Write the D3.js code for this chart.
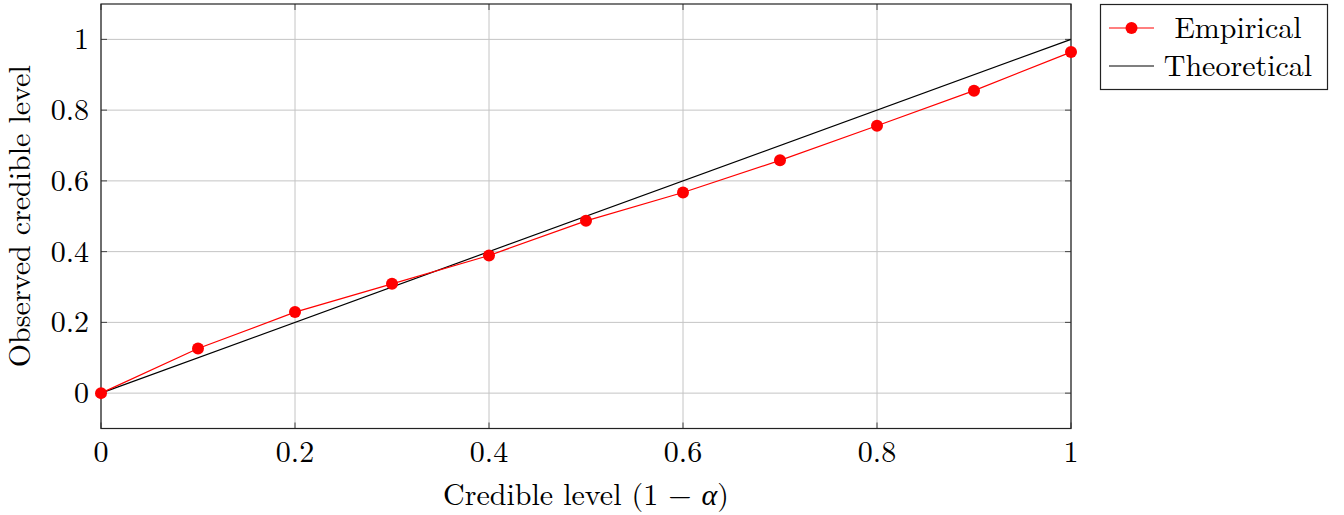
<!DOCTYPE html>
<html>
<head>
<meta charset="utf-8">
<script src="https://d3js.org/d3.v7.min.js"></script>
<style>
  body { margin: 0; background: #fff; }
  text { font-family: "Latin Modern Roman", "Liberation Serif", "Times New Roman", serif; fill: #000; }
</style>
</head>
<body>
<svg id="chart" width="1344" height="515"></svg>
<script>
// data
var levels = [0, 0.1, 0.2, 0.3, 0.4, 0.5, 0.6, 0.7, 0.8, 0.9, 1.0];
var empirical = [0, 0.126, 0.229, 0.309, 0.389, 0.487, 0.567, 0.658, 0.756, 0.855, 0.964];
var theoretical = [0, 1];
var xTicks = [0, 0.2, 0.4, 0.6, 0.8, 1];
var yTicks = [0, 0.2, 0.4, 0.6, 0.8, 1];
var seriesNames = ["Empirical", "Theoretical"];

var svg = d3.select("#chart");

var pLeft = 101, pRight = 1071, pTop = 4, pBottom = 428.5;

var x = d3.scaleLinear().domain([0, 1]).range([pLeft, pRight]);
var y = d3.scaleLinear().domain([-0.1, 1.1]).range([pBottom, pTop]);

// grid
svg.append("g").selectAll("line")
  .data(xTicks).enter().append("line")
    .attr("x1", d => x(d)).attr("x2", d => x(d))
    .attr("y1", pTop).attr("y2", pBottom)
    .attr("stroke", "#c4c4c4").attr("stroke-width", 1);
svg.append("g").selectAll("line")
  .data(yTicks).enter().append("line")
    .attr("x1", pLeft).attr("x2", pRight)
    .attr("y1", d => y(d)).attr("y2", d => y(d))
    .attr("stroke", "#c4c4c4").attr("stroke-width", 1);

// inward ticks on all sides
var tl = 6;
var ticks = svg.append("g").attr("stroke", "#444").attr("stroke-width", 1);
xTicks.forEach(function(d) {
  ticks.append("line").attr("x1", x(d)).attr("x2", x(d)).attr("y1", pBottom).attr("y2", pBottom - tl);
  ticks.append("line").attr("x1", x(d)).attr("x2", x(d)).attr("y1", pTop).attr("y2", pTop + tl);
});
yTicks.forEach(function(d) {
  ticks.append("line").attr("x1", pLeft).attr("x2", pLeft + tl).attr("y1", y(d)).attr("y2", y(d));
  ticks.append("line").attr("x1", pRight).attr("x2", pRight - tl).attr("y1", y(d)).attr("y2", y(d));
});

// tick labels
svg.append("g").selectAll("text")
  .data(xTicks).enter().append("text")
    .attr("x", d => x(d)).attr("y", 462)
    .attr("text-anchor", "middle")
    .style("font-size", "30px")
    .text(d => d3.format("")(d));
svg.append("g").selectAll("text")
  .data(yTicks).enter().append("text")
    .attr("x", 89).attr("y", d => y(d) + 10)
    .attr("text-anchor", "end")
    .style("font-size", "30px")
    .text(d => d3.format("")(d));

// lines
var line = d3.line().x(d => x(d[0])).y(d => y(d[1]));
svg.append("path")
  .datum(theoretical.map(d => [d, d]))
  .attr("d", line).attr("fill", "none")
  .attr("stroke", "#000").attr("stroke-width", 1.2);

var emp = levels.map((d, i) => [d, empirical[i]]);
svg.append("path")
  .datum(emp)
  .attr("d", line).attr("fill", "none")
  .attr("stroke", "#ff0000").attr("stroke-width", 1.2);

// frame
svg.append("rect")
  .attr("x", pLeft).attr("y", pTop)
  .attr("width", pRight - pLeft).attr("height", pBottom - pTop)
  .attr("fill", "none").attr("stroke", "#222").attr("stroke-width", 1.2);

svg.selectAll("circle.pt")
  .data(emp).enter().append("circle")
    .attr("cx", d => x(d[0])).attr("cy", d => y(d[1]))
    .attr("r", 6).attr("fill", "#ff0000");

// axis titles
svg.append("text")
  .attr("x", (pLeft + pRight) / 2).attr("y", 505)
  .attr("text-anchor", "middle")
  .style("font-size", "30px")
  .html("Credible level (1 \u2212 <tspan font-style='italic'>\u03b1</tspan>)");
svg.append("text")
  .attr("transform", "translate(30," + ((pTop + pBottom) / 2) + ") rotate(-90)")
  .attr("text-anchor", "middle")
  .style("font-size", "30px")
  .text("Observed credible level");

// legend
var lg = svg.append("g");
lg.append("rect")
  .attr("x", 1100.5).attr("y", 4.5).attr("width", 227).attr("height", 85)
  .attr("fill", "#fff").attr("stroke", "#222").attr("stroke-width", 1.2);
lg.append("line").attr("x1", 1109).attr("x2", 1154).attr("y1", 28).attr("y2", 28)
  .attr("stroke", "#ff0000").attr("stroke-width", 1.2);
lg.append("circle").attr("cx", 1131.5).attr("cy", 28).attr("r", 6).attr("fill", "#ff0000");
lg.append("line").attr("x1", 1109).attr("x2", 1154).attr("y1", 66).attr("y2", 66)
  .attr("stroke", "#000").attr("stroke-width", 1.2);
lg.selectAll("text")
  .data(seriesNames).enter().append("text")
    .attr("x", 1238).attr("y", (d, i) => 38 + i * 38)
    .attr("text-anchor", "middle")
    .style("font-size", "30px")
    .text(d => d);
</script>
</body>
</html>
